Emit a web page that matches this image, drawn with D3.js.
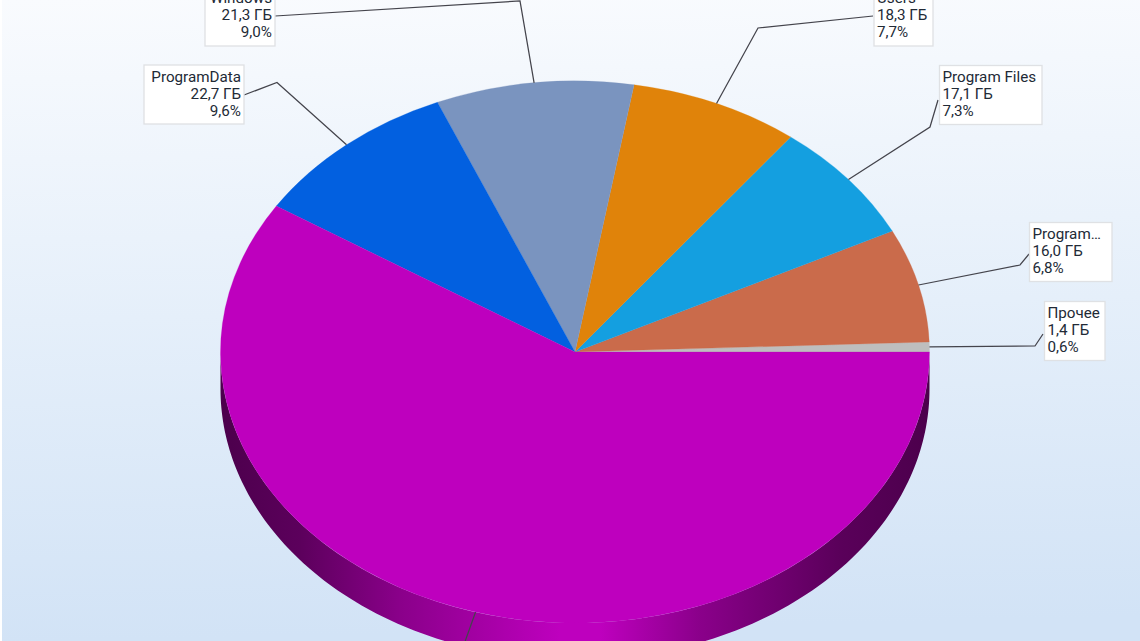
<!DOCTYPE html>
<html>
<head>
<meta charset="utf-8">
<script src="https://cdn.jsdelivr.net/npm/d3@7"></script>
<style>
html,body{margin:0;padding:0;overflow:hidden;background:#fff}
svg{display:block}
text{font-family:Roboto,sans-serif;font-size:15.2px;fill:#222a36}
</style>
</head>
<body>
<svg id="chart" width="1140" height="641"></svg>
<script>
// Data, in drawing order (counter-clockwise from the east point of the pie)
const categories = ["Прочее", "Program…", "Program Files", "Users", "Windows", "ProgramData", ""];
const sizesGb = [1.4, 16.0, 17.1, 18.3, 21.3, 22.7, 139.6];
const sizeLabels = ["1,4 ГБ", "16,0 ГБ", "17,1 ГБ", "18,3 ГБ", "21,3 ГБ", "22,7 ГБ", ""];
const shareLabels = ["0,6%", "6,8%", "7,3%", "7,7%", "9,0%", "9,6%", ""];
const sliceColors = ["#bebebe", "#ca6b4b", "#149fe0", "#e0830a", "#7a94bf", "#0260e0", "#be00be"];

// Layout
const W = 1140, H = 641;
const cx = 575, cy = 352, rx = 354.5, ry = 271, depth = 37;
// label box: x, y, w, h, text alignment; knee is the leader's bend; exit is where it meets the box
const boxes = [
  {x:1044.5,y:301.5,w:60.5,h:59,align:"start", knee:[1035,346], exit:[1043,334]},
  {x:1029.5,y:222.5,w:82.5,h:59,align:"start", knee:[1020,265], exit:[1029,254]},
  {x:939.5,y:65.5,w:102.5,h:59,align:"start", knee:[930,127], exit:[938,100]},
  {x:874,y:-14,w:59,h:60,align:"start", knee:[758,28], exit:[873,16]},
  {x:205,y:-14,w:70,h:60,align:"end", knee:[520,1], exit:[275,16]},
  {x:144,y:65,w:100,h:59,align:"end", knee:[277,82.5], exit:[244,95]},
  {x:null, knee:[462,650], exit:[462,650]}
];

const svg = d3.select("#chart");
const defs = svg.append("defs");

// Background
const bg = defs.append("linearGradient").attr("id","bg")
  .attr("x1",0).attr("y1",0).attr("x2",0.04).attr("y2",1);
[[0,"#f9fbfe"],[0.5,"#e5effa"],[1,"#d2e3f6"]].forEach(s=>bg.append("stop").attr("offset",s[0]).attr("stop-color",s[1]));
svg.append("rect").attr("width",W).attr("height",H).attr("fill","#fff");
svg.append("rect").attr("x",2).attr("width",W-2).attr("height",H).attr("fill","url(#bg)");

// Side shading
const sideStops = [[221,"#4c004c"],[300,"#5c005c"],[400,"#8a008a"],[480,"#a400a4"],[560,"#be00be"],[600,"#be00be"],[700,"#8a008a"],[840,"#5a005a"],[930,"#4c004c"]];
const sideGrad = defs.append("linearGradient").attr("id","side")
  .attr("gradientUnits","userSpaceOnUse").attr("x1",cx-rx).attr("x2",cx+rx).attr("y1",0).attr("y2",0);
sideStops.forEach(s=>sideGrad.append("stop")
  .attr("offset",(s[0]-(cx-rx))/(2*rx)).attr("stop-color",s[1]));

const pie = d3.pie().sort(null).value(d=>d).startAngle(Math.PI/2).endAngle(Math.PI/2-2*Math.PI);
const arcs = pie(sizesGb);
const arc = d3.arc().innerRadius(0).outerRadius(rx);

// Extruded side: lower half of the ellipse
const px = a => cx + rx*Math.sin(a);
const py = a => cy - ry*Math.cos(a);
const sideAngles = d3.range(0,181).map(i=>Math.PI/2 + i*Math.PI/180);
svg.append("path")
  .attr("d", d3.area().x(px).y0(py).y1(a=>py(a)+depth)(sideAngles))
  .attr("fill","url(#side)");

// Top face: arcs scaled vertically into an ellipse
const face = svg.append("g").attr("transform",`translate(${cx},${cy}) scale(1,${ry/rx})`);
face.selectAll("path").data(arcs).join("path")
  .attr("d",arc)
  .attr("fill",(d,i)=>sliceColors[i])
  .attr("stroke",(d,i)=>sliceColors[i])
  .attr("stroke-width",0.3);

// Leader lines
const line = d3.line();
svg.append("g").selectAll("path").data(arcs).join("path")
  .attr("fill","none").attr("stroke","#44444c").attr("stroke-width",1.25)
  .attr("d",(d,i)=>{
    const m=(d.startAngle+d.endAngle)/2;
    return line([[px(m),py(m)],boxes[i].knee,boxes[i].exit]);
  });

// Label boxes
const labels = svg.append("g").selectAll("g").data(arcs.filter((d,i)=>boxes[i].x!==null)).join("g");
labels.append("rect")
  .attr("x",d=>boxes[d.index].x).attr("y",d=>boxes[d.index].y)
  .attr("width",d=>boxes[d.index].w).attr("height",d=>boxes[d.index].h)
  .attr("fill","#fff").attr("stroke","#dfe1e4").attr("stroke-width",1.3);
labels.each(function(d){
  const i=d.index,b=boxes[i];
  const tx=b.align==="start"?b.x+3:b.x+b.w-3;
  const t=[categories[i],sizeLabels[i],shareLabels[i]];
  d3.select(this).selectAll("text").data(t).join("text")
    .attr("x",tx).attr("y",(s,j)=>b.y+16.5+j*17)
    .attr("text-anchor",b.align).text(s=>s);
});
</script>
</body>
</html>
